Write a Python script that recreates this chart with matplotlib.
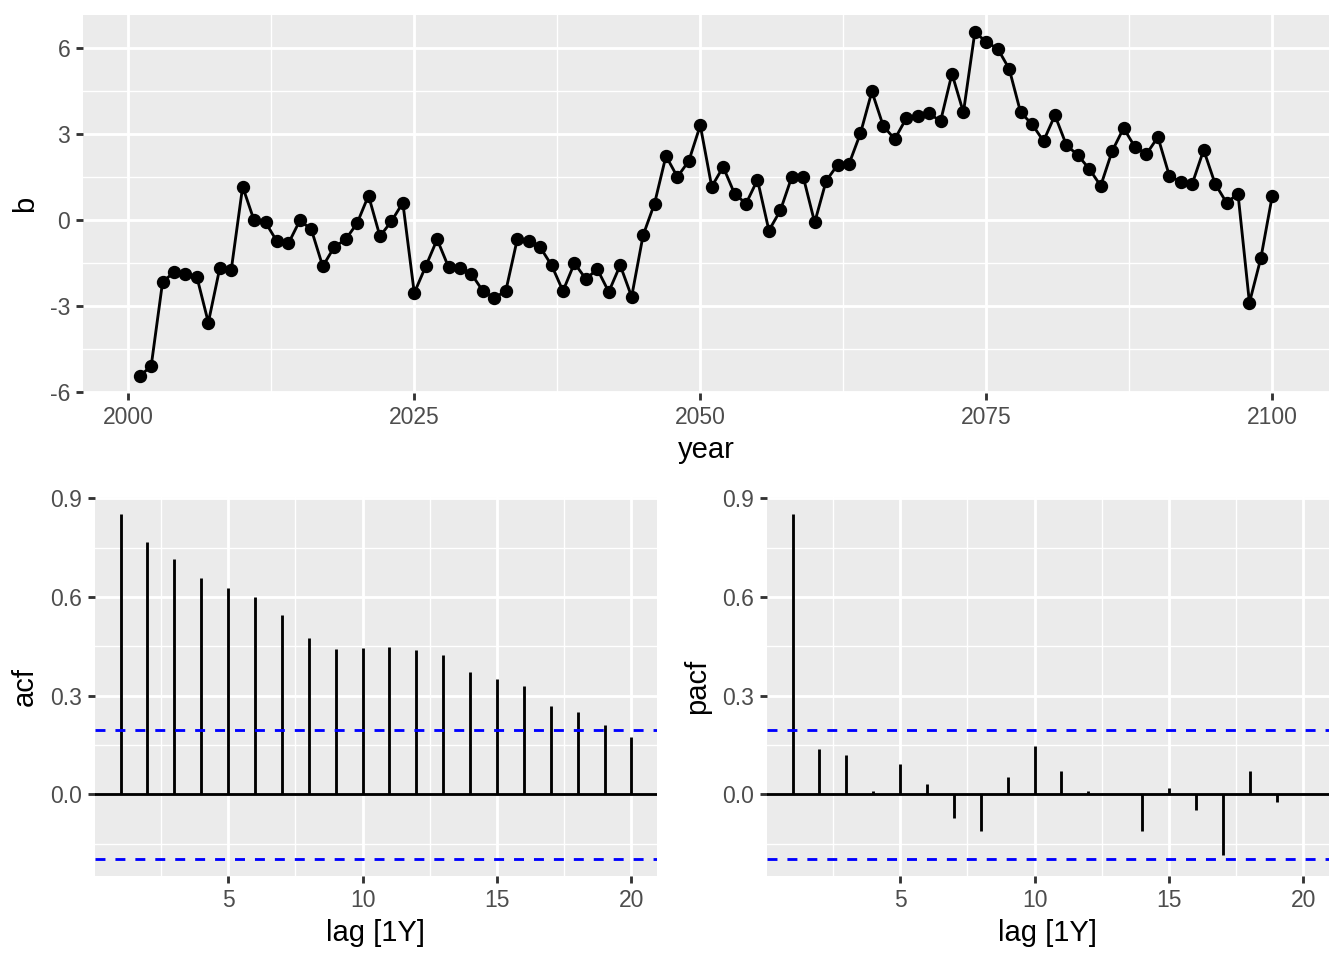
import numpy as np
import matplotlib
matplotlib.use("Agg")
import matplotlib.pyplot as plt
from matplotlib.ticker import FixedLocator, FormatStrFormatter

# yearly series b, 2001-2100
years = np.arange(2001, 2101)
b = [-5.42, -5.09, -2.15, -1.80, -1.87, -1.97, -3.56, -1.66, -1.73, 1.18,
     0.00, -0.07, -0.73, -0.80, 0.00, -0.31, -1.60, -0.93, -0.66, -0.10,
     0.87, -0.55, -0.03, 0.62, -2.53, -1.60, -0.66, -1.63, -1.66, -1.87,
     -2.46, -2.70, -2.46, -0.66, -0.73, -0.93, -1.56, -2.46, -1.49, -2.04,
     -1.70, -2.49, -1.56, -2.66, -0.52, 0.59, 2.25, 1.52, 2.08, 3.32,
     1.18, 1.87, 0.93, 0.59, 1.42, -0.35, 0.35, 1.52, 1.52, -0.07,
     1.38, 1.94, 1.97, 3.04, 4.50, 3.29, 2.84, 3.56, 3.63, 3.74,
     3.46, 5.12, 3.77, 6.57, 6.23, 5.99, 5.29, 3.77, 3.36, 2.77,
     3.67, 2.63, 2.28, 1.80, 1.21, 2.42, 3.22, 2.56, 2.32, 2.91,
     1.56, 1.35, 1.28, 2.46, 1.28, 0.62, 0.93, -2.87, -1.31, 0.87]

lags = np.arange(1, 21)
acf = [0.852, 0.766, 0.715, 0.658, 0.629, 0.600, 0.546, 0.477, 0.443, 0.446,
       0.447, 0.439, 0.423, 0.372, 0.350, 0.330, 0.268, 0.250, 0.212, 0.174]
pacf = [0.852, 0.139, 0.120, 0.010, 0.092, 0.030, -0.071, -0.111, 0.053, 0.146,
        0.070, 0.009, 0.001, -0.111, 0.019, -0.049, -0.186, 0.072, -0.024, 0.002]
ci = 1.96 / np.sqrt(len(b))

plt.rcParams['font.family'] = ['Liberation Sans', 'DejaVu Sans']
plt.rcParams['axes.unicode_minus'] = False

PANEL = '#EBEBEB'
GRID_MAJ = 2.05
GRID_MIN = 1.0
TICK_SIZE = 16.5
LAB_SIZE = 21


def gg_style(ax, xmaj, xmin, ymaj, ymin):
    ax.set_facecolor(PANEL)
    for s in ax.spines.values():
        s.set_visible(False)
    ax.xaxis.set_major_locator(FixedLocator(xmaj))
    ax.xaxis.set_minor_locator(FixedLocator(xmin))
    ax.yaxis.set_major_locator(FixedLocator(ymaj))
    ax.yaxis.set_minor_locator(FixedLocator(ymin))
    ax.grid(which='major', color='white', linewidth=GRID_MAJ)
    ax.grid(which='minor', color='white', linewidth=GRID_MIN)
    ax.set_axisbelow(True)
    ax.tick_params(which='major', length=5.3, width=2.05, color='#333333',
                   labelcolor='#4D4D4D', labelsize=TICK_SIZE, pad=4)
    ax.tick_params(which='minor', length=0)


fig = plt.figure(figsize=(13.44, 9.6), dpi=100)

# top: time series
ax1 = fig.add_axes([0.0618, 0.5906, 0.9270, 0.3938])
ax1.plot(years, b, color='black', linewidth=2.05, zorder=3)
ax1.plot(years, b, 'o', color='black', markersize=8.6, zorder=4)
rng = max(b) - min(b)
ax1.set_xlim(2001 - 0.05 * 99, 2100 + 0.05 * 99)
ax1.set_ylim(min(b) - 0.05 * rng, max(b) + 0.05 * rng)
gg_style(ax1, [2000, 2025, 2050, 2075, 2100], [2012.5, 2037.5, 2062.5, 2087.5],
         [-6, -3, 0, 3, 6], [-4.5, -1.5, 1.5, 4.5])
ax1.set_xlabel('year', fontsize=LAB_SIZE, labelpad=5)
ax1.set_ylabel('b', fontsize=LAB_SIZE, labelpad=8)


def corr_panel(rect, vals, name):
    ax = fig.add_axes(rect)
    ax.vlines(lags, 0, vals, color='black', linewidth=2.05, zorder=3)
    ax.axhline(0, color='black', linewidth=2.05, zorder=3)
    for yv in (ci, -ci):
        ax.axhline(yv, color='blue', linewidth=2.05, linestyle=(0, (3.5, 3.5)), zorder=3)
    lo = min(min(vals), -ci)
    hi = max(max(vals), ci)
    r = hi - lo
    ax.set_ylim(lo - 0.05 * r, hi + 0.05 * r)
    ax.set_xlim(1 - 0.05 * 19, 20 + 0.05 * 19)
    gg_style(ax, [5, 10, 15, 20], [2.5, 7.5, 12.5, 17.5],
             [0.0, 0.3, 0.6, 0.9], [-0.15, 0.15, 0.45, 0.75])
    ax.yaxis.set_major_formatter(FormatStrFormatter('%.1f'))
    ax.set_xlabel('lag [1Y]', fontsize=LAB_SIZE, labelpad=5)
    ax.set_ylabel(name, fontsize=LAB_SIZE, labelpad=8)
    return ax


corr_panel([0.0707, 0.0875, 0.4181, 0.3948], acf, 'acf')
corr_panel([0.5707, 0.0875, 0.4181, 0.3948], pacf, 'pacf')

fig.savefig('out.png', dpi=100, facecolor='white')
